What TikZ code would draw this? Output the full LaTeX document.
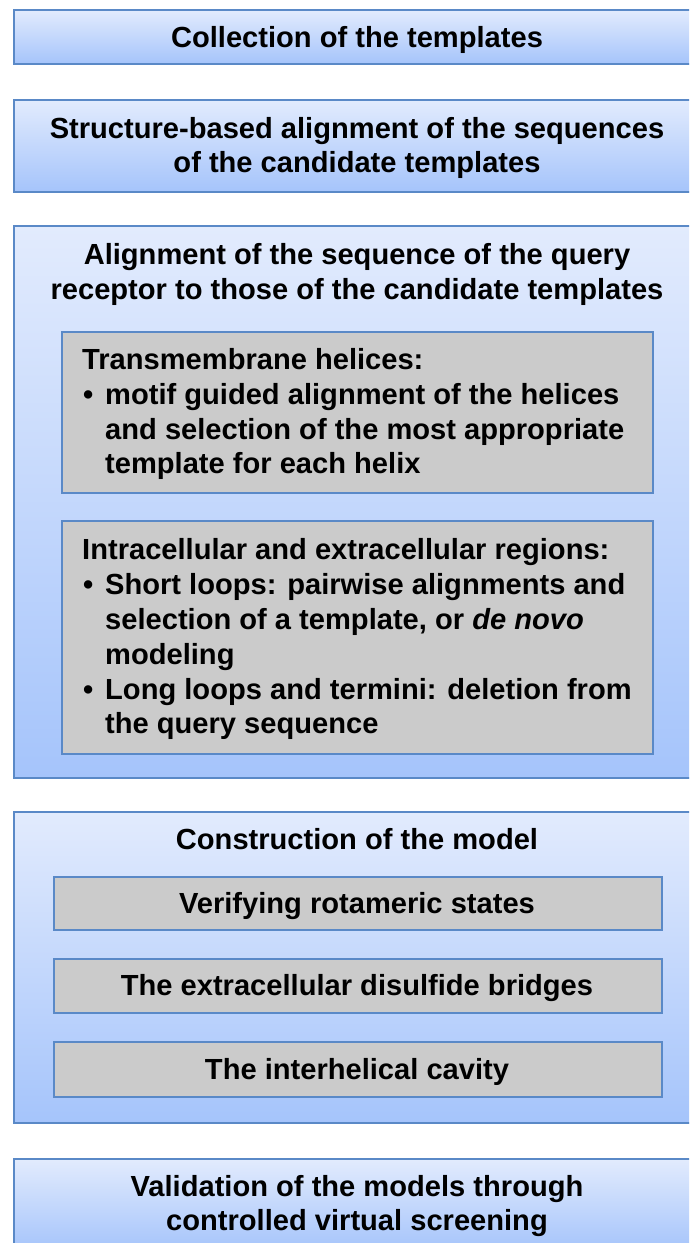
\documentclass[tikz,border=0pt]{standalone}
\usepackage{fontspec}
\setmainfont{Liberation Sans}
\definecolor{boxblue}{HTML}{5A89C7}
\definecolor{gradtop}{HTML}{E2EBFD}
\definecolor{gradbot}{HTML}{A5C4FB}
\definecolor{subgray}{HTML}{CBCBCB}
\begin{document}
\begin{tikzpicture}[x=1pt,y=-1pt,
  stage/.style={draw=boxblue, line width=2pt, top color=gradtop, bottom color=gradbot,
    minimum width=688pt, inner sep=0pt, anchor=north west},
  substep/.style={draw=boxblue, line width=2pt, fill=subgray, inner sep=0pt, anchor=north west},
  txt/.style={font=\bfseries\fontsize{29.1}{34}\selectfont, inner sep=0pt, anchor=base},
  ltxt/.style={txt, anchor=base west}]
\useasboundingbox (0,0) rectangle (689,1243);
\clip (0,0) rectangle (689,1243);

% main stages
\node[stage, minimum height=54pt]  (collect)   at (13,9)    {};
\node[stage, minimum height=92pt]  (structal)  at (13,99)   {};
\node[stage, minimum height=552pt] (queryal)   at (13,225)  {};
\node[stage, minimum height=311pt] (construct) at (13,811)  {};
\node[stage, minimum height=92pt]  (validate)  at (13,1158) {};

% sub-steps of the query alignment
\node[substep, minimum width=591pt, minimum height=161pt] (helices) at (61,331) {};
\node[substep, minimum width=591pt, minimum height=233pt] (loops)   at (61,520) {};

% sub-steps of the model construction
\node[substep, minimum width=608pt, minimum height=53pt] (rotamer)   at (53,876)  {};
\node[substep, minimum width=608pt, minimum height=54pt] (disulfide) at (53,958)  {};
\node[substep, minimum width=608pt, minimum height=55pt] (cavity)    at (53,1041) {};

% texts
\node[txt] (tcollect) at (357,47) {Collection of the templates};

\node[txt] (tstruct1) at (357,138) {Structure-based alignment of the sequences};
\node[txt] (tstruct2) at (357,172) {of the candidate templates};

\node[txt] (tquery1) at (357,264) {Alignment of the sequence of the query};
\node[txt] (tquery2) at (357,299) {receptor to those of the candidate templates};

\node[ltxt] (thel1) at (82,369) {Transmembrane helices:};
\node[ltxt] (thelb) at (83,404) {\textbullet};
\node[ltxt] (thel2) at (105,404) {motif guided alignment of the helices};
\node[ltxt] (thel3) at (105,439) {and selection of the most appropriate};
\node[ltxt] (thel4) at (105,473) {template for each helix};

\node[ltxt] (tloop1) at (82,559) {Intracellular and extracellular regions:};
\node[ltxt] (tloopb1) at (83,594) {\textbullet};
\node[ltxt] (tloop2) at (105,594) {Short loops: pairwise alignments and};
\node[ltxt] (tloop3) at (105,629) {selection of a template, or \textit{de novo}};
\node[ltxt] (tloop4) at (105,664) {modeling};
\node[ltxt] (tloopb2) at (83,699) {\textbullet};
\node[ltxt] (tloop5) at (105,699) {Long loops and termini: deletion from};
\node[ltxt] (tloop6) at (105,733) {the query sequence};

\node[txt] (tconstruct) at (357,849) {Construction of the model};
\node[txt] (trotamer)   at (357,913) {Verifying rotameric states};
\node[txt] (tdisulfide) at (357,995) {The extracellular disulfide bridges};
\node[txt] (tcavity)    at (357,1079) {The interhelical cavity};

\node[txt] (tvalid1) at (357,1196) {Validation of the models through};
\node[txt] (tvalid2) at (357,1230) {controlled virtual screening};
\end{tikzpicture}
\end{document}
